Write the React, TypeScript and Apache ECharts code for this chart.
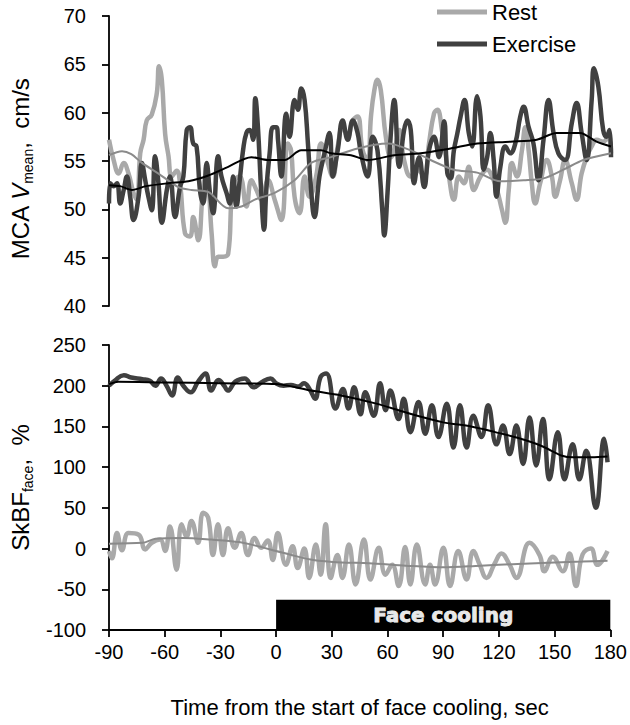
import React, { useEffect, useRef } from "react";
import * as echarts from "echarts";

const xTicks = [-90, -60, -30, 0, 30, 60, 90, 120, 150, 180];
const mcaTicks = [40, 45, 50, 55, 60, 65, 70];
const skbfTicks = [-100, -50, 0, 50, 100, 150, 200, 250];

const mcaRest: [number, number][] = [
  [-90, 57.2], [-87.5, 55.1], [-84.8, 53.7], [-82.1, 54.8], [-79.5, 53.7], [-76.8, 51.7], [-75, 51],
  [-73.2, 55.8], [-71.4, 57.2], [-69.7, 59.2], [-67, 59.8], [-64.3, 62], [-63.1, 64.8], [-61.6, 63.4],
  [-59.8, 57.8], [-58, 55.5], [-56.3, 53.4], [-53.6, 54], [-51.8, 52.7], [-49.1, 47.5], [-46.4, 47.2],
  [-44.7, 49.2], [-42, 46.8], [-39.3, 52.3], [-37.5, 53.7], [-34.8, 47.5], [-33, 44.1], [-31.3, 45.1],
  [-28.6, 45.1], [-25.9, 45.4], [-24.1, 51], [-22.4, 53], [-19.7, 53.4], [-16.1, 50.3], [-13.4, 53],
  [-10.7, 52], [-8.1, 51], [-4.5, 53], [-0.9, 51], [2.7, 48.9], [6.2, 56.8], [7.9, 56.1], [9.8, 51.3],
  [12.5, 49.6], [15.2, 53.4], [17.8, 51.3], [21.4, 53.4], [24.1, 56.8], [26.8, 55.4], [30.3, 53.4],
  [33, 56.5], [35.7, 58.5], [38.4, 57.5], [41.1, 59.2], [43.7, 59.6], [46.4, 56.1], [49.1, 55.1],
  [50.9, 59.6], [52.7, 62.3], [54.4, 63.4], [56.2, 62.3], [58.9, 57.5], [61.6, 55.4], [64.3, 56.8],
  [66.1, 58.2], [68.7, 55.1], [72.3, 53.4], [75.9, 54.1], [79.5, 53.4], [82.1, 56.8], [84.8, 59.9],
  [86.6, 60.3], [89.3, 57.9], [90.8, 56.1], [92.8, 53.4], [95.5, 51], [98.2, 53.4], [100.9, 52.7],
  [103.5, 54.4], [106.2, 52], [109.8, 53.4], [113.4, 54.1], [116, 53.4], [118.7, 52], [121.4, 49.9],
  [123.2, 48.6], [125, 52], [126.7, 54.8], [129.4, 53.4], [132.1, 56.1], [133.9, 58.5], [135.7, 56.1],
  [137.4, 52.7], [139.2, 50.6], [141.9, 52.7], [145.5, 55.1], [148.2, 53.4], [150, 51.3], [152.6, 53],
  [155.3, 55.1], [158.9, 52.7], [161.5, 51], [164.2, 53.7], [166.9, 55.4], [169.6, 56.5], [172.3, 57.2],
  [175.8, 57], [178.5, 57.5], [180, 55.8],
];

const mcaExercise: [number, number][] = [
  [-90, 50.6], [-89.3, 52.7], [-87.5, 52.4], [-85.7, 52.7], [-84, 50.6], [-82.1, 52], [-80.4, 53.4],
  [-78.6, 51.3], [-76.8, 48.9], [-74.1, 51.3], [-72.3, 54.8], [-70.5, 53], [-68.8, 51.3], [-67, 49.9],
  [-65.2, 55.5], [-63.4, 52.7], [-61.6, 48.6], [-58.9, 52], [-57.2, 53.4], [-54.5, 49.2], [-51.8, 52.3],
  [-50, 53.4], [-48.2, 58.2], [-46.4, 58.5], [-44.7, 56.8], [-42.9, 56.5], [-41.1, 52], [-39.3, 50.6],
  [-37.5, 54.8], [-35.7, 51.7], [-34, 49.6], [-31.3, 55.5], [-29.5, 53.4], [-26.8, 51.7], [-25, 50.6],
  [-23.2, 53.4], [-21.5, 50.3], [-19.7, 53], [-17.9, 56.1], [-16.1, 57.9], [-14.3, 58.2], [-12.5, 57.2],
  [-11.3, 61.5], [-9.9, 58.5], [-8.1, 51.7], [-6.6, 47.9], [-5.4, 52], [-3.6, 55.8], [-1.8, 58.5],
  [0, 58.5], [0.9, 57.2], [2.7, 53.4], [5.3, 59.9], [7.1, 57.5], [9.8, 61.3], [11.6, 60.3], [13.4, 62.5],
  [15.2, 61.3], [17, 56.8], [18.7, 52], [20.5, 49.2], [23.2, 53.4], [25.9, 55.8], [28.6, 57.9],
  [30.3, 53.4], [33, 56.1], [35.7, 59.2], [38.4, 57.2], [41.1, 59.2], [43.7, 57.9], [45.5, 55.8],
  [49.1, 53.4], [51.8, 57.5], [54.4, 56.1], [57.1, 49.6], [58, 47.3], [59.8, 51.7], [61.6, 57.9],
  [63.4, 61.3], [66.1, 54.4], [68.7, 58.2], [70.5, 59.2], [72.3, 58.2], [74.1, 52.7], [76.8, 55.4],
  [79.5, 52.3], [82.1, 56.1], [84.8, 57.5], [87.5, 55.4], [90.2, 59.1], [92, 53.7], [93.7, 53.2],
  [95.5, 56.1], [97.3, 57.8], [99.1, 59.6], [101.2, 61.3], [103.5, 57.9], [105.3, 56.5], [108, 61.7],
  [109.8, 59.6], [111.6, 54.1], [113.4, 55.4], [115.1, 57.9], [116.9, 55.1], [118.4, 51.3], [120.5, 54.4],
  [123.2, 56.5], [125.8, 55.8], [128.5, 56.8], [131.2, 59.6], [133, 60.6], [135.7, 58.5], [138.3, 56.8],
  [141, 53], [143.7, 57.2], [146.4, 61.3], [149.1, 57.9], [151.7, 55.8], [155.3, 55.1], [158.9, 58.9],
  [161.5, 61], [164.2, 57.9], [166.9, 55.1], [169.6, 61.3], [170.8, 64.6], [173.2, 62.7], [175.8, 58.2],
  [177.6, 57.5], [179.2, 58.2], [180, 55.4],
];

const mcaRestTrend: [number, number][] = [
  [-90, 55.6], [-83, 56], [-78, 55.7], [-72.3, 54.8], [-63.4, 53.7], [-52.7, 52.3], [-45.6, 52],
  [-36.6, 51.8], [-25.9, 50.1], [-18.8, 50.3], [-11.6, 51], [-0.9, 51.7], [9.8, 53], [18.7, 54.8],
  [29.4, 55.4], [43.7, 56.3], [59.8, 56.8], [72.3, 56.1], [83, 55.1], [95.5, 54.1], [108, 53.8],
  [120.5, 52.9], [133, 53], [143.7, 53.2], [154.4, 54.1], [165.1, 55.1], [180, 55.8],
];

const mcaExerciseTrend: [number, number][] = [
  [-90, 52.5], [-84, 52.4], [-77.7, 52], [-70, 52.4], [-58, 52.7], [-47.3, 52.9], [-36.6, 53.5],
  [-25.9, 54.4], [-13.4, 55.4], [-4.5, 55.1], [4.4, 55.1], [13.4, 56.1], [24, 56.1], [29.4, 55.8],
  [40.1, 55.6], [49.1, 55.1], [63.4, 55.6], [77.6, 55.8], [93.7, 56.3], [108, 56.8], [125.8, 57],
  [140.1, 57.2], [150.8, 57.9], [163.3, 57.9], [172.2, 57], [180, 56.5],
];

const skbfRest: [number, number][] = [
  [-90, -3], [-88.4, -12], [-85.7, 19], [-83, -2], [-79.5, 19], [-74, 17], [-70.5, -1], [-67, 7],
  [-62.5, 11], [-59.8, -3], [-57.2, 27], [-53.6, -26], [-50.9, 30], [-48.2, 15], [-45.6, 34], [-42, 7],
  [-39.3, 44], [-36.6, 38], [-34, -8], [-31.3, 30], [-28.6, -8], [-25.9, 25], [-22.3, 1], [-18.8, 19],
  [-15.2, -8], [-11.6, 13], [-8.1, 1], [-4.5, 10], [-1.8, -14], [0.9, 19], [5.3, -20], [8.9, 3],
  [11.6, -24], [15.2, 0], [17.8, -36], [21.4, 5], [24, -32], [26.7, 30], [29.4, -36], [33, -8],
  [35.7, -36], [39.2, 5], [42.8, -44], [47.3, 11], [50.8, -38], [55.3, 1], [58.9, -32], [62.5, -20],
  [66, -46], [69.5, 2], [72.3, -44], [75.8, 5], [80.3, -44], [82.9, -20], [85.6, -44], [90.1, 1],
  [93.7, -46], [98.1, -3], [102.6, -38], [106.2, -3], [109.7, -20], [113.3, -36], [117.8, -18],
  [121.3, -6], [125.8, -20], [129.4, -36], [136.5, 7], [141.9, -8], [144.5, -28], [149, -10],
  [154.4, -28], [158, -6], [161.5, -46], [165.1, -7], [169.5, 0], [173.1, -20], [178.5, -3],
];

const skbfExercise: [number, number][] = [
  [-90, 200], [-87, 206], [-82, 213], [-78, 210], [-72, 208], [-68, 206], [-65, 200], [-62, 209],
  [-59, 200], [-56, 188], [-53, 210], [-50, 200], [-46, 192], [-42, 205], [-38, 215], [-35, 194],
  [-31, 207], [-28, 200], [-26, 194], [-22, 205], [-17, 209], [-12, 198], [-8, 204], [-3, 209],
  [0, 203], [4, 200], [8, 201], [12, 199], [15, 203], [18, 196], [21, 184], [24, 211], [27, 215],
  [32, 172], [36, 196], [39, 172], [42, 198], [45.5, 165], [48, 192], [52.6, 163], [56, 203],
  [59, 170], [61.5, 194], [66, 159], [68.7, 184], [72.3, 143], [76.7, 180], [80.3, 141], [83.9, 176],
  [87.4, 137], [91.9, 178], [95.5, 124], [99, 176], [102.6, 124], [106.2, 163], [110.6, 137],
  [114.2, 176], [118.7, 128], [122.2, 151], [125.8, 116], [129.4, 151], [133, 104], [136.5, 161],
  [140.1, 102], [143.7, 159], [147.2, 85], [151.7, 143], [155.3, 85], [159.7, 128], [163.3, 85],
  [167, 120], [172.2, 50], [176.7, 135], [178.5, 106],
];

const skbfRestTrend: [number, number][] = [
  [-90, 6], [-72, 7], [-65, 12], [-50, 13], [-35, 11], [-20, 8], [-10, 3], [0, -3], [10, -9],
  [20, -14], [35, -17], [50, -18], [70, -21], [90, -23], [110, -21], [130, -19], [150, -17],
  [165, -16], [178.5, -15],
];

const skbfExerciseTrend: [number, number][] = [
  [-90, 202], [-85, 205], [-60, 204], [-30, 203], [0, 202], [18.7, 194], [35, 188], [54, 178],
  [70, 167], [90, 155], [105, 150], [118, 143], [130, 136], [143, 126], [154, 114], [160, 112],
  [170, 112], [178.5, 113],
];

const coolingWindow = { start: 0, end: 180, top: -63, label: "Face cooling" };

const FONT = "'Liberation Sans', Arial, sans-serif";
const REST = "#a9a9a9";
const EXER = "#404040";

export default function App() {
  const ref = useRef<HTMLDivElement>(null);
  useEffect(() => {
    if (!ref.current) return;
    const chart = echarts.init(ref.current, undefined, { renderer: "svg" });
    const axisLine = { show: true, onZero: false, lineStyle: { color: "#000", width: 1.8 } };
    const axisTick = { show: true, inside: false, length: 7, lineStyle: { color: "#000", width: 1.8 } };
    const labelStyle = { color: "#000", fontSize: 20, fontFamily: FONT };
    const rawLine = (name: string, data: [number, number][], color: string, idx: number, extra: any = {}) => ({
      name,
      type: "line",
      xAxisIndex: idx,
      yAxisIndex: idx,
      data,
      showSymbol: false,
      smooth: 0.45,
      lineStyle: { color, width: 4.5 },
      itemStyle: { color },
      ...extra,
    });
    const trendLine = (name: string, data: [number, number][], color: string, idx: number) => ({
      name,
      type: "line",
      xAxisIndex: idx,
      yAxisIndex: idx,
      data,
      showSymbol: false,
      smooth: 0.3,
      lineStyle: { color, width: 2 },
      itemStyle: { color },
    });
    const nameRich = {
      a: { fontSize: 24, fontFamily: FONT, color: "#000", lineHeight: 30, verticalAlign: "middle" },
      v: { fontSize: 24, fontFamily: FONT, color: "#000", fontStyle: "italic", lineHeight: 30, verticalAlign: "middle" },
      s: { fontSize: 14, fontFamily: FONT, color: "#000", lineHeight: 30, verticalAlign: "bottom" },
    };
    chart.setOption({
      animation: false,
      legend: {
        data: ["Rest", "Exercise"],
        orient: "vertical",
        left: 432,
        top: -4,
        icon: "rect",
        itemWidth: 50,
        itemHeight: 5,
        itemGap: 10,
        textStyle: { color: "#000", fontSize: 22, fontFamily: FONT },
      },
      grid: [
        { left: 107, right: 19, top: 16, height: 290 },
        { left: 107, right: 19, top: 345, height: 285 },
      ],
      xAxis: [
        { type: "value", gridIndex: 0, min: -90, max: 180, interval: 30, show: false },
        {
          type: "value",
          gridIndex: 1,
          min: xTicks[0],
          max: xTicks[xTicks.length - 1],
          interval: 30,
          axisLine,
          axisTick,
          splitLine: { show: false },
          axisLabel: { ...labelStyle, margin: 12 },
          name: "Time from the start of face cooling, sec",
          nameLocation: "middle",
          nameGap: 66,
          nameTextStyle: { color: "#000", fontSize: 22, fontFamily: FONT },
        },
      ],
      yAxis: [
        {
          type: "value",
          gridIndex: 0,
          min: mcaTicks[0],
          max: mcaTicks[mcaTicks.length - 1],
          interval: 5,
          axisLine,
          axisTick,
          splitLine: { show: false },
          axisLabel: { ...labelStyle, margin: 23 },
          name: "{a|MCA }{v|V}{s|mean}{a|,  cm/s}",
          nameLocation: "middle",
          nameGap: 74,
          nameTextStyle: { rich: nameRich, padding: [0, 16, 0, 0] },
        },
        {
          type: "value",
          gridIndex: 1,
          min: skbfTicks[0],
          max: skbfTicks[skbfTicks.length - 1],
          interval: 50,
          axisLine,
          axisTick,
          splitLine: { show: false },
          axisLabel: { ...labelStyle, margin: 23 },
          name: "{a|SkBF}{s|face}{a|,  %}",
          nameLocation: "middle",
          nameGap: 74,
          nameTextStyle: { rich: nameRich },
        },
      ],
      series: [
        rawLine("Rest", mcaRest, REST, 0),
        rawLine("Exercise", mcaExercise, EXER, 0),
        trendLine("Rest trend", mcaRestTrend, "#8a8a8a", 0),
        trendLine("Exercise trend", mcaExerciseTrend, "#000", 0),
        rawLine("Rest SkBF", skbfRest, REST, 1, {
          markArea: {
            silent: true,
            itemStyle: { color: "#000" },
            label: {
              show: true,
              position: "inside",
              formatter: coolingWindow.label,
              color: "#e8e8e8",
              fontSize: 20,
              fontWeight: "bold",
              fontFamily: "'DejaVu Sans', sans-serif",
              textBorderColor: "#ffffff",
              textBorderWidth: 0.8,
            },
            data: [
              [
                { xAxis: coolingWindow.start, yAxis: skbfTicks[0] },
                { xAxis: coolingWindow.end, yAxis: coolingWindow.top },
              ],
            ],
          },
        }),
        rawLine("Exercise SkBF", skbfExercise, EXER, 1),
        trendLine("Rest SkBF trend", skbfRestTrend, "#8a8a8a", 1),
        trendLine("Exercise SkBF trend", skbfExerciseTrend, "#000", 1),
      ],
    });
    return () => chart.dispose();
  }, []);
  return (
    <div
      ref={ref}
      style={{ position: "fixed", left: 0, top: 0, width: 630, height: 725, background: "#fff" }}
    />
  );
}
